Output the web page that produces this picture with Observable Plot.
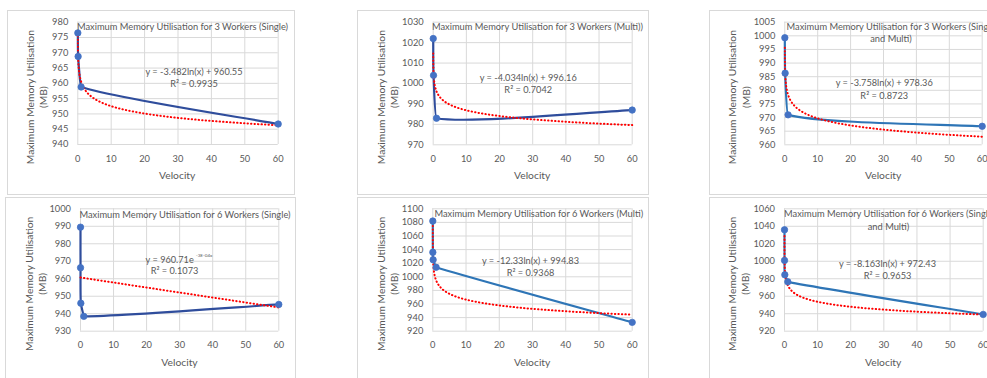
<!DOCTYPE html>
<html>
<head>
<meta charset="utf-8">
<script src="https://cdn.jsdelivr.net/npm/d3@7"></script>
<script src="https://cdn.jsdelivr.net/npm/@observablehq/plot@0.6"></script>
<style>
  html, body { margin: 0; padding: 0; background: #fff; }
  #page { position: relative; width: 987px; height: 378px; overflow: hidden; background: #fff; }
  .frame { position: absolute; box-sizing: border-box; border: 1px solid #d9d9d9; background: #fff; }
  .chart { position: absolute; }
  .chart svg { display: block; max-width: none; }
</style>
</head>
<body>
<div id="page"></div>
<script>
// Velocity settings tested for each worker count
const velocityThree = [0.01, 0.1, 1, 60];
const velocitySix = [0.001, 0.01, 0.1, 1, 60];

// Maximum memory utilisation (MB) per velocity
const memThreeSingle = [976.5, 968.8, 958.8, 946.7];
const memThreeMulti = [1022, 1004, 983, 987];
const memThreeBoth = [999.3, 986.3, 971, 966.8];
const memSixSingle = [989.5, 966.3, 946, 938.5, 945.3];
const memSixMulti = [1082, 1036, 1025, 1014, 933];
const memSixBoth = [1036, 1001, 984.5, 976.5, 939.2];

// Axis ticks
const velocityTicks = [0, 10, 20, 30, 40, 50, 60];
const ticksThreeSingle = [940, 945, 950, 955, 960, 965, 970, 975, 980];
const ticksThreeMulti = [970, 980, 990, 1000, 1010, 1020, 1030];
const ticksThreeBoth = [960, 965, 970, 975, 980, 985, 990, 995, 1000, 1005];
const ticksSixSingle = [930, 940, 950, 960, 970, 980, 990, 1000];
const ticksSixMulti = [920, 940, 960, 980, 1000, 1020, 1040, 1060, 1080, 1100];
const ticksSixBoth = [920, 940, 960, 980, 1000, 1020, 1040, 1060];

// Chart titles
const titleThreeSingle = "Maximum Memory Utilisation for 3 Workers (Single)";
const titleThreeMulti = "Maximum Memory Utilisation for 3 Workers (Multi))";
const titleThreeBoth = "Maximum Memory Utilisation for 3 Workers (Single\nand Multi)";
const titleSixSingle = "Maximum Memory Utilisation for 6 Workers (Single)";
const titleSixMulti = "Maximum Memory Utilisation for 6 Workers (Multi)";
const titleSixBoth = "Maximum Memory Utilisation for 6 Workers (Single\nand Multi)";

// Fitted trendlines: log is y = a·ln(x) + b, exp is y = a·e^(b·x)
const trendThreeSingle = {kind: "log", a: -3.482, b: 960.55, r2: "0.9935"};
const trendThreeMulti = {kind: "log", a: -4.034, b: 996.16, r2: "0.7042"};
const trendThreeBoth = {kind: "log", a: -3.758, b: 978.36, r2: "0.8723"};
const trendSixSingle = {kind: "exp", a: 960.71, b: -3e-4, r2: "0.1073"};
const trendSixMulti = {kind: "log", a: -12.33, b: 994.83, r2: "0.9368"};
const trendSixBoth = {kind: "log", a: -8.163, b: 972.43, r2: "0.9653"};

const FONT = "Lato, 'Open Sans', sans-serif";
const TEXT = "#595959";
const GRID = "#d9d9d9";
const MARKER = "#4472c4";
const NAVY = "#2f4d9c";
const BLUE = "#2e75b6";

// Page layout of each chart (pixels): frame box, plot area, label centres
const panels = [
  {velocity: velocityThree, memory: memThreeSingle, ticks: ticksThreeSingle, title: titleThreeSingle, trend: trendThreeSingle,
   box: [7, 10, 295, 195], plot: [77.3, 21.7, 277.7, 144], titleAt: [182, 25], eqAt: [193.5, 71.7, 83.3],
   yTitleAt: [35.5, 96.7], xTitleAt: [176.7, 175], color: NAVY},
  {velocity: velocityThree, memory: memThreeMulti, ticks: ticksThreeMulti, title: titleThreeMulti, trend: trendThreeMulti,
   box: [357, 10, 649, 195], plot: [432.7, 21.7, 631.7, 144.3], titleAt: [537, 25], eqAt: [527.7, 77.3, 90],
   yTitleAt: [387, 96.7], xTitleAt: [531.7, 175], color: NAVY},
  {velocity: velocityThree, memory: memThreeBoth, ticks: ticksThreeBoth, title: titleThreeBoth, trend: trendThreeBoth,
   box: [709, 10, 1000, 195], plot: [784.3, 21.7, 981.7, 144.3], titleAt: [890.5, 25], eqAt: [883.7, 82.7, 96],
   yTitleAt: [738.3, 96.7], xTitleAt: [882.7, 175], color: BLUE},
  {velocity: velocitySix, memory: memSixSingle, ticks: ticksSixSingle, title: titleSixSingle, trend: trendSixSingle,
   box: [5, 197, 296, 392], plot: [80, 208.3, 278.3, 330.7], titleAt: [184.5, 213.3], eqAt: [177, 259.3, 270.5],
   yTitleAt: [34.7, 283.3], xTitleAt: [179, 362.7], color: NAVY},
  {velocity: velocitySix, memory: memSixMulti, ticks: ticksSixMulti, title: titleSixMulti, trend: trendSixMulti,
   box: [357, 197, 649, 392], plot: [432.3, 208.3, 631.7, 330.7], titleAt: [538.3, 212.7], eqAt: [530, 261, 272.7],
   yTitleAt: [386.7, 283.3], xTitleAt: [531.7, 362.7], color: BLUE},
  {velocity: velocitySix, memory: memSixBoth, ticks: ticksSixBoth, title: titleSixBoth, trend: trendSixBoth,
   box: [709, 197, 1000, 392], plot: [784, 208.3, 982.7, 330.7], titleAt: [888, 212.7], eqAt: [887, 263.3, 276],
   yTitleAt: [738, 283.3], xTitleAt: [882.7, 362.7], color: BLUE}
];

// Smoothed line: cubic Béziers with tangents (P[i+1] − P[i−1]) / 6, where the
// tangent on the shorter side of a point is shrunk so short steps don't hook.
function smoothCurve(context) {
  let pts;
  return {
    areaStart() {}, areaEnd() {},
    lineStart() { pts = []; },
    point(x, y) { pts.push([+x, +y]); },
    lineEnd() {
      const n = pts.length;
      if (!n) return;
      context.moveTo(pts[0][0], pts[0][1]);
      if (n === 1) return;
      const dist = (a, b) => Math.hypot(b[0] - a[0], b[1] - a[1]);
      const tan = pts.map((p, i) => {
        const a = pts[Math.max(0, i - 1)], b = pts[Math.min(n - 1, i + 1)];
        return [(b[0] - a[0]) / 6, (b[1] - a[1]) / 6];
      });
      for (let i = 0; i < n - 1; i++) {
        const p = pts[i], q = pts[i + 1];
        const d = dist(p, q) || 1e-9;
        const dPrev = i > 0 ? dist(pts[i - 1], p) : d;
        const dNext = i + 2 < n ? dist(q, pts[i + 2]) : d;
        const s1 = Math.min(1, (d / (dPrev || 1e-9)) ** 2);
        const s2 = Math.min(1, (d / (dNext || 1e-9)) ** 2);
        context.bezierCurveTo(
          p[0] + tan[i][0] * s1, p[1] + tan[i][1] * s1,
          q[0] - tan[i + 1][0] * s2, q[1] - tan[i + 1][1] * s2,
          q[0], q[1]);
      }
    }
  };
}

function expLabel(b) {
  const [m, e] = b.toExponential(0).split("e");
  const n = Math.abs(+e);
  return `${m}E${+e < 0 ? "-" : "+"}${String(n).padStart(2, "0")}x`;
}

function trendValue(t, x) {
  return t.kind === "log" ? t.a * Math.log(x) + t.b : t.a * Math.exp(t.b * x);
}

function drawPanel(p) {
  const [bl, bt, br, bb] = p.box;
  const [pl, pt, pr, pb] = p.plot;
  const width = br - bl, height = bb - bt;
  const rel = ([cx, cy]) => ({dx: cx - pl, dy: cy - pt});

  const points = p.velocity.map((v, i) => ({v, m: p.memory[i]}));
  // Sample the fitted curve across the observed velocity range
  const lo = d3.min(p.velocity), hi = d3.max(p.velocity);
  const trendPts = d3.range(301).map(i => {
    const v = lo * Math.pow(hi / lo, i / 300);
    return {v, m: trendValue(p.trend, v)};
  });

  const titleLines = p.title.split("\n").length;
  const titleLH = 12.7;
  const titleCenter = [p.titleAt[0], p.titleAt[1] + (titleLines - 1) * titleLH / 2];

  const eqMarks = [];
  if (p.trend.kind === "log") {
    const eq = `y = ${p.trend.a}ln(x) + ${p.trend.b}`;
    eqMarks.push(Plot.text([eq], {frameAnchor: "top-left", ...rel([p.eqAt[0], p.eqAt[1]]), text: d => d,
      fontSize: 9.2, fill: TEXT, textAnchor: "middle", lineAnchor: "middle"}));
  } else {
    const base = `y = ${p.trend.a}e`;
    eqMarks.push(Plot.text([base], {frameAnchor: "top-left", ...rel([p.eqAt[0] + 16.3, p.eqAt[1]]), text: d => d,
      fontSize: 9.2, fill: TEXT, textAnchor: "end", lineAnchor: "middle"}));
    eqMarks.push(Plot.text([expLabel(p.trend.b)], {frameAnchor: "top-left", ...rel([p.eqAt[0] + 18.5, p.eqAt[1] - 4]), text: d => d,
      fontSize: 4.6, fill: TEXT, textAnchor: "start", lineAnchor: "middle"}));
  }
  eqMarks.push(Plot.text([`R² = ${p.trend.r2}`], {frameAnchor: "top-left", ...rel([p.eqAt[0] - (p.trend.kind === "exp" ? 3 : 0), p.eqAt[2]]), text: d => d,
    fontSize: 9.2, fill: TEXT, textAnchor: "middle", lineAnchor: "middle"}));

  const svg = Plot.plot({
    width, height,
    marginLeft: pl - bl, marginRight: br - pr, marginTop: pt - bt, marginBottom: bb - pb,
    x: {domain: [0, 60]},
    y: {domain: [d3.min(p.ticks), d3.max(p.ticks)]},
    style: {fontFamily: FONT, fontSize: "9.3px", color: TEXT, background: "transparent", overflow: "visible"},
    marks: [
      Plot.gridX(velocityTicks, {stroke: GRID, strokeOpacity: 1, strokeWidth: 1}),
      Plot.gridY(p.ticks, {stroke: GRID, strokeOpacity: 1, strokeWidth: 1}),
      Plot.axisX(velocityTicks, {anchor: "bottom", tickSize: 0, tickPadding: 10.5, label: null, fill: TEXT, tickFormat: d => String(d)}),
      Plot.axisY(p.ticks, {anchor: "left", tickSize: 0, tickPadding: 9.5, label: null, fill: TEXT, tickFormat: d => String(d)}),
      Plot.line(points, {x: "v", y: "m", stroke: p.color, strokeWidth: 2.2, curve: smoothCurve}),
      Plot.line(trendPts, {x: "v", y: "m", stroke: "#ff0000", strokeWidth: 2, strokeLinecap: "round", strokeDasharray: "0.4,3.1"}),
      Plot.dot(points, {x: "v", y: "m", r: 3.2, fill: MARKER, stroke: MARKER, strokeWidth: 0.8}),
      Plot.text([p.title], {frameAnchor: "top-left", ...rel(titleCenter), text: d => d,
        fontSize: 9.3, fill: TEXT, textAnchor: "middle", lineAnchor: "middle", lineHeight: titleLH / 9.3}),
      ...eqMarks,
      Plot.text(["Maximum Memory Utilisation\n(MB)"], {frameAnchor: "top-left", ...rel(p.yTitleAt), text: d => d,
        rotate: -90, fontSize: 10.3, fill: TEXT, textAnchor: "middle", lineAnchor: "middle", lineHeight: 1.27}),
      Plot.text(["Velocity"], {frameAnchor: "top-left", ...rel(p.xTitleAt), text: d => d,
        fontSize: 10.3, fill: TEXT, textAnchor: "middle", lineAnchor: "middle"})
    ]
  });

  const page = document.getElementById("page");
  const frame = document.createElement("div");
  frame.className = "frame";
  Object.assign(frame.style, {left: bl + "px", top: bt + "px", width: width + "px", height: height + "px"});
  page.appendChild(frame);
  const holder = document.createElement("div");
  holder.className = "chart";
  Object.assign(holder.style, {left: bl + "px", top: bt + "px", width: width + "px", height: height + "px"});
  holder.appendChild(svg);
  page.appendChild(holder);
}

panels.forEach(drawPanel);
</script>
</body>
</html>
